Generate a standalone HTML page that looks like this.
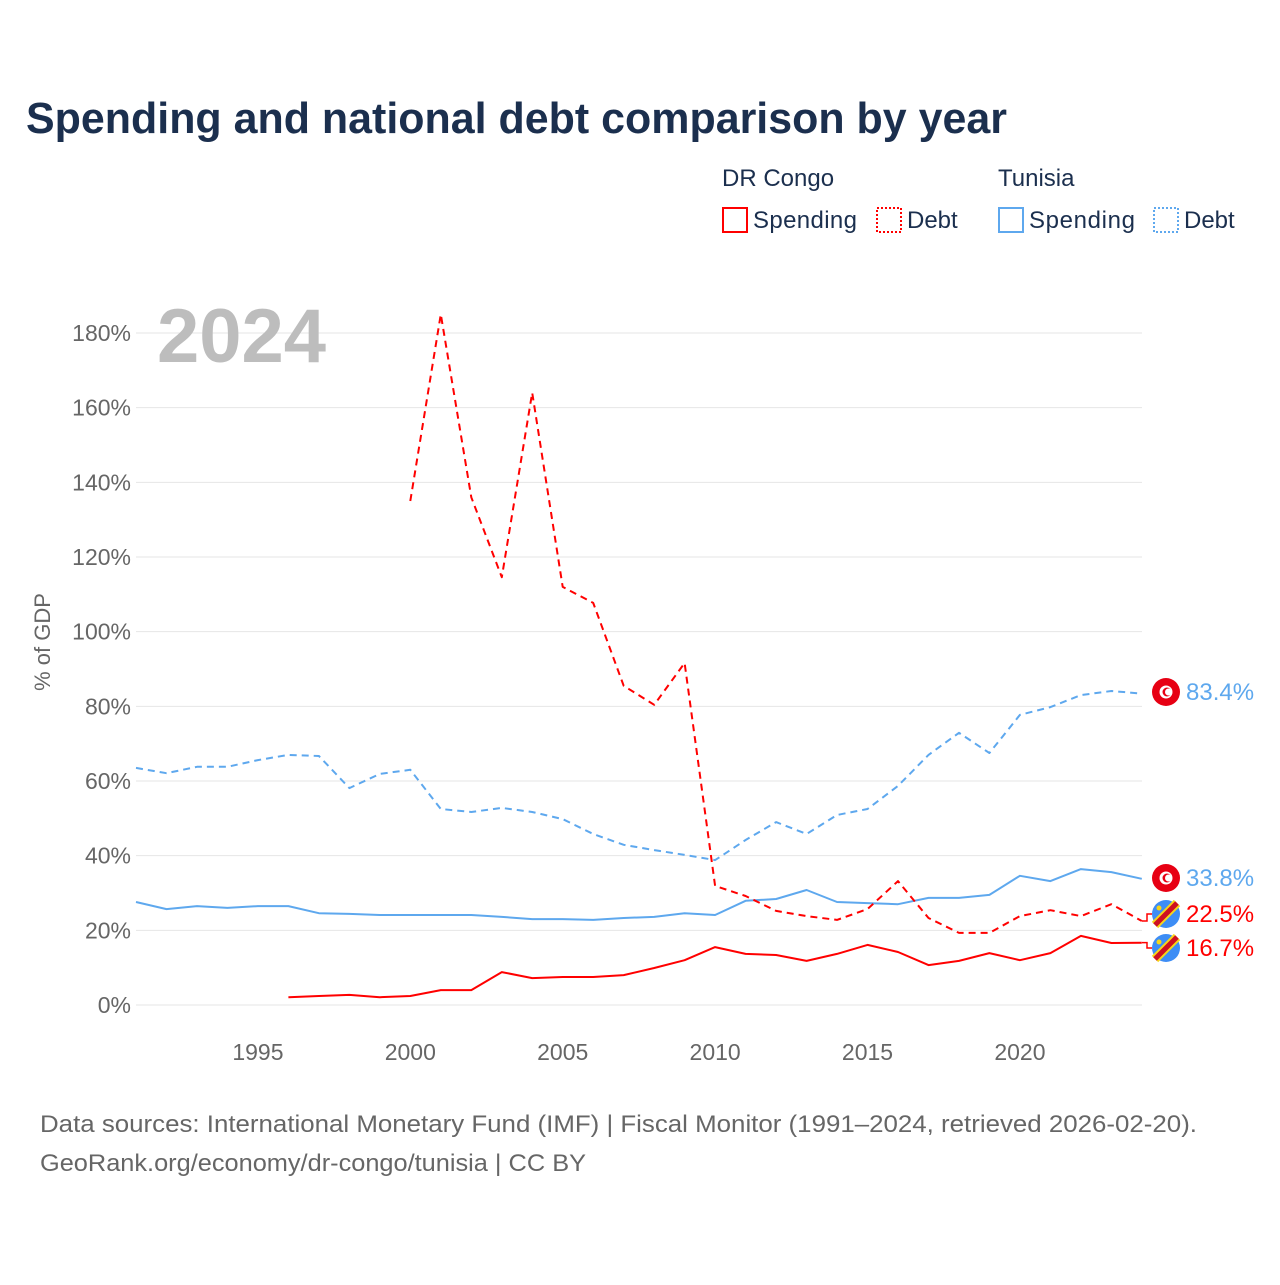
<!DOCTYPE html>
<html><head><meta charset="utf-8"><style>
body{margin:0;background:#fff;font-family:"Liberation Sans",sans-serif}
</style></head><body>
<svg id="chart" width="1280" height="1280" viewBox="0 0 1280 1280" xmlns="http://www.w3.org/2000/svg" font-family="Liberation Sans, sans-serif">
<rect width="1280" height="1280" fill="#fff"/>
<text x="26" y="133" font-size="44" font-weight="bold" fill="#1b2f4e" textLength="981" lengthAdjust="spacingAndGlyphs">Spending and national debt comparison by year</text>
<g font-size="24" fill="#1b2f4e">
<text x="722" y="186">DR Congo</text>
<text x="998" y="186">Tunisia</text>
<g><rect x="723" y="208" width="24" height="24" fill="none" stroke="#f00" stroke-width="2"/><text x="753" y="228" textLength="104">Spending</text></g>
<g><rect x="877" y="208" width="24" height="24" fill="none" stroke="#f00" stroke-width="2" stroke-dasharray="2,2"/><text x="907" y="228">Debt</text></g>
<g><rect x="999" y="208" width="24" height="24" fill="none" stroke="#5ea8ee" stroke-width="2"/><text x="1029" y="228" textLength="106">Spending</text></g>
<g><rect x="1154" y="208" width="24" height="24" fill="none" stroke="#5ea8ee" stroke-width="2" stroke-dasharray="2,2"/><text x="1184" y="228">Debt</text></g>
</g>
<g id="grid"></g>
<text x="157" y="362" font-size="76" font-weight="bold" fill="#bdbdbd">2024</text>
<text transform="translate(50,642) rotate(-90)" text-anchor="middle" font-size="22" fill="#666">% of GDP</text>
<g id="series"></g>
<g id="labels"></g>
<text x="40" y="1132" font-size="24" fill="#666" textLength="1157" lengthAdjust="spacingAndGlyphs">Data sources: International Monetary Fund (IMF) | Fiscal Monitor (1991–2024, retrieved 2026-02-20).</text>
<text x="40" y="1171" font-size="24" fill="#666" textLength="546" lengthAdjust="spacingAndGlyphs">GeoRank.org/economy/dr-congo/tunisia | CC BY</text>
</svg>
<script>
const years=[];for(let y=1991;y<=2024;y++)years.push(y);
const yTicks=[0,20,40,60,80,100,120,140,160,180];
const xTicks=[1995,2000,2005,2010,2015,2020];
const tunDebt=[63.5,62.1,63.8,63.8,65.6,67,66.7,58.1,61.9,63,52.5,51.7,52.8,51.7,49.8,45.8,42.9,41.5,40.2,38.8,44.2,49,45.8,50.9,52.5,58.7,67,72.9,67.5,77.7,79.8,83,84.1,83.4];
const tunSpend=[27.6,25.7,26.5,26,26.5,26.5,24.6,24.4,24.1,24.1,24.1,24.1,23.6,23,23,22.8,23.3,23.6,24.6,24.1,27.9,28.4,30.8,27.6,27.3,27,28.7,28.7,29.5,34.6,33.2,36.4,35.6,33.8];
const drcDebt=[null,null,null,null,null,null,null,null,null,135,185,136,114.6,164,112,107.7,85.5,80.4,91.6,31.9,29.2,25.2,23.8,22.8,25.7,33.2,23.3,19.3,19.3,23.8,25.4,23.8,27,22.5];
const drcSpend=[null,null,null,null,null,2.1,2.4,2.7,2.1,2.4,4,4,8.8,7.2,7.5,7.5,8,9.9,12,15.5,13.7,13.4,11.8,13.7,16.1,14.2,10.7,11.8,13.9,12,13.9,18.5,16.6,16.7];
const NS="http://www.w3.org/2000/svg";
const X=y=>136+(y-1991)*30.48;
const Y=v=>1005-v*3.7333;
function el(t,a,p){const e=document.createElementNS(NS,t);for(const k in a)e.setAttribute(k,a[k]);p.appendChild(e);return e;}
const grid=document.getElementById('grid');
yTicks.forEach(v=>{
 const l=el('line',{x1:136,x2:1142,y1:Y(v),y2:Y(v),stroke:'#e6e6e6','stroke-width':1},grid);
 
 
 const t=el('text',{x:131,y:Y(v)+8,'text-anchor':'end','font-size':23,fill:'#666'},grid);t.textContent=v+'%';
 
 
});
xTicks.forEach(v=>{
 const t=el('text',{x:X(v),y:1060,'text-anchor':'middle','font-size':23,fill:'#666'},grid);t.textContent=v;
 
 
});
const ser=document.getElementById('series');
function line(data,color,dash,name){
 let d='';data.forEach((v,i)=>{if(v==null)return;d+=(d?'L':'M')+X(years[i]).toFixed(1)+','+Y(v).toFixed(1);});
 const p=el('path',{d:d,fill:'none',stroke:color,'stroke-width':2,'stroke-dasharray':dash||'none','stroke-linejoin':'round'},ser);
 
 
}
line(tunDebt,'#5ea8ee','7,5','line-tunisia-debt');
line(tunSpend,'#5ea8ee','','line-tunisia-spending');
line(drcDebt,'#f00','7,5','line-drc-debt');
line(drcSpend,'#f00','','line-drc-spending');
const lab=document.getElementById('labels');
function endLabel(val,ly,color,flag,name){
 const g=el('g',{},lab);
 
 
 const vy=Y(val);
 if(Math.abs(vy-ly)>2){el('path',{d:`M1142,${vy}H1147V${ly}H1152`,fill:'none',stroke:color,'stroke-width':1.5},g);}
 if(flag==='tun'){
  el('circle',{cx:1166,cy:ly,r:14,fill:'#e70013'},g);
  el('circle',{cx:1166,cy:ly,r:6.5,fill:'#fff'},g);
  el('circle',{cx:1167,cy:ly,r:4.5,fill:'#e70013'},g);
  el('circle',{cx:1168.5,cy:ly,r:3.5,fill:'#fff'},g);
 }else{
  el('circle',{cx:1166,cy:ly,r:14,fill:'#3d8df5'},g);
  el('line',{x1:1155,y1:ly+11,x2:1177,y2:ly-11,stroke:'#f7d618','stroke-width':9},g);
  el('line',{x1:1155,y1:ly+11,x2:1177,y2:ly-11,stroke:'#ce1021','stroke-width':5},g);
  el('circle',{cx:1159,cy:ly-6,r:2.5,fill:'#f7d618'},g);
 }
 const t=el('text',{x:1186,y:ly+8,'font-size':24,fill:color},g);t.textContent=val.toFixed(1)+'%';
}
endLabel(tunDebt[33],692,'#5ea8ee','tun','label-tunisia-debt');
endLabel(tunSpend[33],878,'#5ea8ee','tun','label-tunisia-spending');
endLabel(drcDebt[33],914,'#f00','drc','label-drc-debt');
endLabel(drcSpend[33],948,'#f00','drc','label-drc-spending');
</script>
</body></html>
